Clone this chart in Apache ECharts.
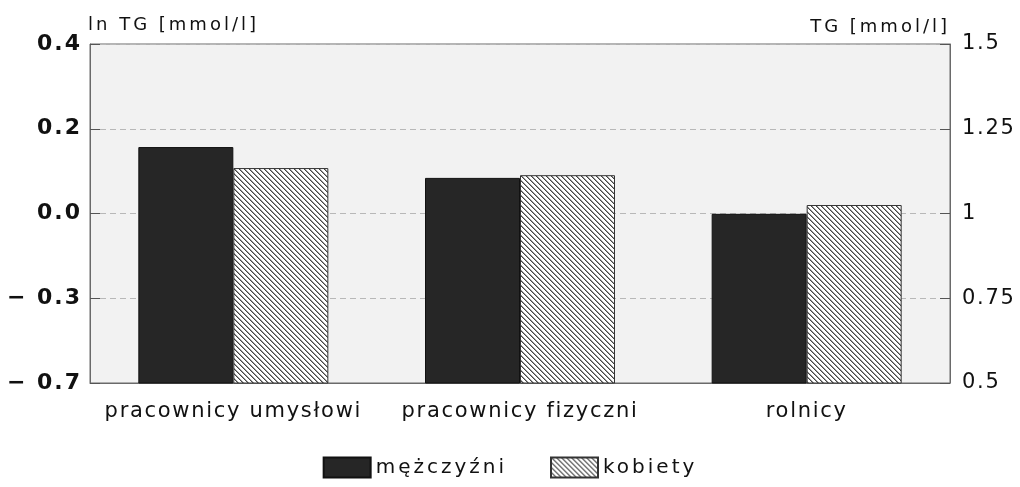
<!DOCTYPE html>
<html>
<head>
<meta charset="utf-8">
<script src="https://cdn.jsdelivr.net/npm/echarts@6/dist/echarts.min.js"></script>
<style>
  html, body { margin: 0; padding: 0; background: #ffffff; }
  #chart { width: 1020px; height: 487px; }
</style>
</head>
<body>
<div id="chart"></div>
<script>
// Occupational groups on the category axis
const categories = ['pracownicy umysłowi', 'pracownicy fizyczni', 'rolnicy'];
// Mean triglycerides, TG [mmol/l]
const menValues = [1.196, 1.105, 0.999];
const womenValues = [1.134, 1.113, 1.025];
// Series names for the legend
const seriesNames = ['mężczyźni', 'kobiety'];
// Tick labels: right axis in TG, left axis in ln TG at the same tick positions
const tgTicks = [0.5, 0.75, 1, 1.25, 1.5];
const tgTickLabels = ['0.5', '0.75', '1', '1.25', '1.5'];
const lnTickLabels = ['− 0.7', '− 0.3', '0.0', '0.2', '0.4'];

// Typewriter-like tracking: letter spacing chosen per font size
(function () {
  const proto = window.CanvasRenderingContext2D && CanvasRenderingContext2D.prototype;
  if (!proto || !('letterSpacing' in proto)) return;
  const spacing = { 18: 3, 20: 3, 21: 1.7, 22: 2 };
  function apply(ctx) {
    const m = /(\d+(?:\.\d+)?)px/.exec(ctx.font || '');
    const s = m ? spacing[Math.round(parseFloat(m[1]))] : 0;
    ctx.letterSpacing = (s || 0) + 'px';
  }
  ['fillText', 'strokeText', 'measureText'].forEach(fn => {
    const orig = proto[fn];
    proto[fn] = function () { apply(this); return orig.apply(this, arguments); };
  });
})();

// Diagonal hatch fill for the women's bars (pixel-aligned "\" stripes)
function hatchPattern() {
  const p = 5;
  const c = document.createElement('canvas');
  c.width = p; c.height = p;
  const ctx = c.getContext('2d');
  ctx.fillStyle = '#ffffff';
  ctx.fillRect(0, 0, p, p);
  for (let y = 0; y < p; y++) {
    for (let x = 0; x < p; x++) {
      const d = ((x - y) % p + p) % p;
      if (d === 0) { ctx.fillStyle = '#454545'; ctx.fillRect(x, y, 1, 1); }
      else if (d === 1) { ctx.fillStyle = '#9a9a9a'; ctx.fillRect(x, y, 1, 1); }
    }
  }
  return { image: c, repeat: 'repeat' };
}

function labelFor(labels, v) {
  const i = tgTicks.findIndex(t => Math.abs(t - v) < 1e-6);
  return i >= 0 ? labels[i] : '';
}

const font = 'DejaVu Sans, Liberation Sans, sans-serif';
const chart = echarts.init(document.getElementById('chart'), null, { renderer: 'canvas' });

chart.setOption({
  backgroundColor: '#ffffff',
  animation: false,
  grid: {
    left: 90, right: 70, top: 44, bottom: 104,
    show: true, backgroundColor: '#f2f2f2', borderColor: '#6a6a6a', borderWidth: 1
  },
  legend: {
    bottom: 3, left: 'center',
    itemWidth: 47, itemHeight: 20, itemGap: 43,
    icon: 'rect',
    textStyle: { fontFamily: font, fontSize: 20, color: '#111', padding: [0, 0, 0, 0] },
    data: seriesNames
  },
  xAxis: {
    type: 'category',
    data: categories,
    axisLine: { show: true, lineStyle: { color: '#6a6a6a' } },
    axisTick: { show: false },
    axisLabel: { fontFamily: font, fontSize: 21, color: '#111', margin: 17, interval: 0 }
  },
  yAxis: [
    {
      type: 'value', position: 'right',
      min: 0.5, max: 1.5, interval: 0.25,
      name: 'TG [mmol/l]', nameLocation: 'end', nameGap: 6,
      nameTextStyle: { fontFamily: font, fontSize: 18, color: '#111', align: 'right', padding: [0, 0, 0, 0] },
      axisLine: { show: true, lineStyle: { color: '#6a6a6a' } },
      axisTick: { show: true, inside: true, length: 10, lineStyle: { color: '#555' } },
      axisLabel: { fontFamily: font, fontSize: 21, color: '#111', margin: 12,
        formatter: v => labelFor(tgTickLabels, v) },
      splitLine: { show: true, lineStyle: { color: '#b8b8b8', type: [6, 4], width: 1 } }
    },
    {
      type: 'value', position: 'left',
      min: 0.5, max: 1.5, interval: 0.25,
      name: 'ln TG [mmol/l]', nameLocation: 'end', nameGap: 8,
      nameTextStyle: { fontFamily: font, fontSize: 18, color: '#111', align: 'left', padding: [0, 0, 0, -2] },
      axisLine: { show: true, lineStyle: { color: '#6a6a6a' } },
      axisTick: { show: true, inside: true, length: 10, lineStyle: { color: '#555' } },
      axisLabel: { fontFamily: font, fontSize: 22, fontWeight: 'bold', color: '#111', margin: 8,
        formatter: v => labelFor(lnTickLabels, v) },
      splitLine: { show: false }
    }
  ],
  series: [
    {
      name: seriesNames[0], type: 'bar', yAxisIndex: 0,
      data: menValues,
      barWidth: 95, barGap: '0%',
      itemStyle: { color: '#262626', borderColor: '#111', borderWidth: 1 }
    },
    {
      name: seriesNames[1], type: 'bar', yAxisIndex: 0,
      data: womenValues,
      barWidth: 95, barGap: '0%',
      itemStyle: { color: hatchPattern(), borderColor: '#333', borderWidth: 1 }
    }
  ]
});
</script>
</body>
</html>
